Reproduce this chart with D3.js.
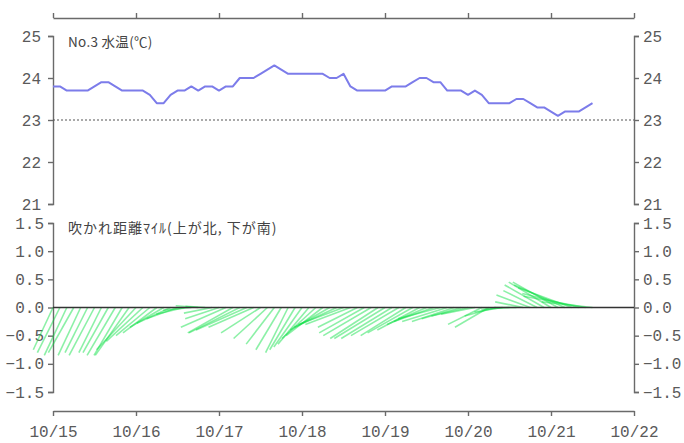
<!DOCTYPE html>
<html>
<head>
<meta charset="utf-8">
<script src="https://cdn.jsdelivr.net/npm/d3@7"></script>
<style>
  html, body { margin: 0; padding: 0; background: #fff; }
  svg { display: block; }
</style>
</head>
<body>
<svg id="chart" width="684" height="443"></svg>
<script>
// Day tick labels along the time axis (one tick every 24 h from 10/15 00:00)
const dayLabels = ["10/15", "10/16", "10/17", "10/18", "10/19", "10/20", "10/21", "10/22"];

// Sampling: every 2 hours starting 10/15 00:00
const sampleStepHours = 2;

// No.3 water temperature (°C), 2-hourly
const waterTemp = [
  23.8, 23.8, 23.7, 23.7, 23.7, 23.7, 23.8, 23.9, 23.9, 23.8,
  23.7, 23.7, 23.7, 23.7, 23.6, 23.4, 23.4, 23.6, 23.7, 23.7,
  23.8, 23.7, 23.8, 23.8, 23.7, 23.8, 23.8, 24.0, 24.0, 24.0,
  24.1, 24.2, 24.3, 24.2, 24.1, 24.1, 24.1, 24.1, 24.1, 24.1,
  24.0, 24.0, 24.1, 23.8, 23.7, 23.7, 23.7, 23.7, 23.7, 23.8,
  23.8, 23.8, 23.9, 24.0, 24.0, 23.9, 23.9, 23.7, 23.7, 23.7,
  23.6, 23.7, 23.6, 23.4, 23.4, 23.4, 23.4, 23.5, 23.5, 23.4,
  23.3, 23.3, 23.2, 23.1, 23.2, 23.2, 23.2, 23.3, 23.4
];

// Drift distance vectors (miles): east component and north component, 2-hourly
const driftEast = [
  -0.35, -0.4, -0.4, -0.45, -0.4, -0.4, -0.45, -0.4, -0.45, -0.5, -0.5,
  -0.6, -0.7, -0.65, -0.6, -0.6, -0.6, -0.6, -0.55, -0.5, -0.5, -0.4,
  -0.35, -0.5, -0.6, -0.8, -0.8, -0.9, -0.9, -0.8, -0.7, -0.6, -0.5,
  -0.45, -0.4, -0.45, -0.5, -0.55, -0.6, -0.65, -0.7, -0.75, -0.8, -0.8,
  -0.7, -0.8, -0.85, -0.85, -0.9, -0.9, -0.85, -0.8, -0.8, -0.75, -0.7, -0.7,
  -0.75, -0.8, -0.75, -0.7, -0.65, -0.6, -0.6, -0.6, -0.55, -0.5, -0.5, -0.4,
  -0.5, -0.6, -0.6, -0.7, -0.75, -0.8, -0.9, -0.95, -1.0, -1.1, -0.9
];
const driftNorth = [
  -0.75, -0.8, -0.85, -0.8, -0.85, -0.8, -0.85, -0.8, -0.8, -0.85, -0.85,
  -0.85, -0.75, -0.6, -0.5, -0.45, -0.35, -0.28, -0.2, -0.12, -0.05, 0.03,
  0.02, -0.1, -0.2, -0.35, -0.45, -0.45, -0.4, -0.35, -0.45, -0.55, -0.65,
  -0.75, -0.8, -0.75, -0.7, -0.65, -0.55, -0.5, -0.4, -0.35, -0.3, -0.3,
  -0.35, -0.45, -0.5, -0.55, -0.55, -0.55, -0.5, -0.5, -0.45, -0.4, -0.3, -0.25,
  -0.2, -0.25, -0.25, -0.2, -0.15, -0.12, -0.3, -0.35, -0.15, -0.08, -0.03, 0.0,
  0.1, 0.22, 0.3, 0.4, 0.45, 0.45, 0.4, 0.35, 0.25, 0.2, 0.1
];

const tempTicks = [21, 22, 23, 24, 25];
const driftTicks = [-1.5, -1.0, -0.5, 0.0, 0.5, 1.0, 1.5];
const tempRef = 23;

const svg = d3.select("#chart");
const axisColor = "#6a6a6a";
const labelColor = "#5a5a5a";
const monoFont = "'Liberation Mono', 'DejaVu Sans Mono', monospace";
const jpFont = "'Noto Sans CJK JP', sans-serif";

const left = 53, right = 634;
const x = d3.scaleLinear().domain([0, 168]).range([left, right]);
const yT = d3.scaleLinear().domain([21, 25]).range([204, 36]);
const yD = d3.scaleLinear().domain([-1.5, 1.5]).range([392, 223]);

const hourOf = i => i * sampleStepHours;
const dayHours = dayLabels.map((d, i) => i * 24);

// ---- top time axis (ticks only, pointing up)
svg.append("g")
  .attr("transform", "translate(0,18)")
  .call(d3.axisTop(x).tickValues(dayHours).tickFormat("").tickSize(5).tickSizeOuter(0))
  .call(g => g.select(".domain").attr("stroke", axisColor).attr("stroke-width", 1.4))
  .call(g => g.selectAll(".tick line").attr("stroke", axisColor).attr("stroke-width", 1.4));

// ---- temperature panel axes
function styleY(g) {
  g.select(".domain").attr("stroke", axisColor).attr("stroke-width", 1.4);
  g.selectAll(".tick line").attr("stroke", axisColor).attr("stroke-width", 1.4);
  g.selectAll(".tick text").attr("fill", labelColor).attr("font-family", monoFont).attr("font-size", 16);
}
svg.append("g").attr("transform", `translate(${left},0)`)
  .call(d3.axisLeft(yT).tickValues(tempTicks).tickFormat(d3.format("d")).tickSize(5).tickPadding(7).tickSizeOuter(5))
  .call(styleY);
svg.append("g").attr("transform", `translate(${right},0)`)
  .call(d3.axisRight(yT).tickValues(tempTicks).tickFormat(d3.format("d")).tickSize(5).tickPadding(4).tickSizeOuter(5))
  .call(styleY);

// reference line at 23 °C
svg.append("line")
  .attr("x1", left).attr("x2", right)
  .attr("y1", yT(tempRef)).attr("y2", yT(tempRef))
  .attr("stroke", "#555").attr("stroke-width", 1.2).attr("stroke-dasharray", "2,2");

// temperature curve
svg.append("path")
  .datum(waterTemp)
  .attr("fill", "none")
  .attr("stroke", "#7c7cea")
  .attr("stroke-width", 2)
  .attr("stroke-linejoin", "round")
  .attr("d", d3.line().x((d, i) => x(hourOf(i))).y(d => yT(d)));

svg.append("text")
  .attr("x", 68).attr("y", 47)
  .attr("font-family", jpFont).attr("font-size", 13.5).attr("fill", "#444")
  .attr("letter-spacing", 0.3)
  .text("No.3 水温(℃)");

// ---- drift panel axes
const fmt1 = d3.format(".1f");
svg.append("g").attr("transform", `translate(${left},0)`)
  .call(d3.axisLeft(yD).tickValues(driftTicks).tickFormat(fmt1).tickSize(5).tickPadding(4).tickSizeOuter(5))
  .call(styleY);
svg.append("g").attr("transform", `translate(${right},0)`)
  .call(d3.axisRight(yD).tickValues(driftTicks).tickFormat(fmt1).tickSize(5).tickPadding(4).tickSizeOuter(5))
  .call(styleY);

// drift sticks: each starts on the zero line at its time and points along (east, north)
const pxPerMile = yD(0) - yD(1);
svg.append("g")
  .selectAll("line")
  .data(driftEast.map((u, i) => ({ t: hourOf(i), u, v: driftNorth[i] })))
  .join("line")
  .attr("x1", d => x(d.t))
  .attr("y1", yD(0))
  .attr("x2", d => x(d.t) + d.u * pxPerMile)
  .attr("y2", d => yD(d.v))
  .attr("stroke", "#00dd3c")
  .attr("stroke-opacity", 0.45)
  .attr("stroke-width", 1.6);

// zero line
svg.append("line")
  .attr("x1", left).attr("x2", right)
  .attr("y1", yD(0)).attr("y2", yD(0))
  .attr("stroke", "#333").attr("stroke-width", 1.3);

svg.append("text")
  .attr("x", 68).attr("y", 233)
  .attr("font-family", jpFont).attr("font-size", 14).attr("fill", "#444")
  .attr("letter-spacing", 1)
  .text("吹かれ距離ﾏｲﾙ(上が北, 下が南)");

// ---- bottom time axis
svg.append("g")
  .attr("transform", "translate(0,411)")
  .call(d3.axisBottom(x).tickValues(dayHours).tickFormat((d, i) => dayLabels[i]).tickSize(5).tickPadding(10).tickSizeOuter(0))
  .call(g => g.select(".domain").attr("stroke", axisColor).attr("stroke-width", 1.4))
  .call(g => g.selectAll(".tick line").attr("stroke", axisColor).attr("stroke-width", 1.4))
  .call(g => g.selectAll(".tick text").attr("fill", labelColor).attr("font-family", monoFont).attr("font-size", 16));
</script>
</body>
</html>
